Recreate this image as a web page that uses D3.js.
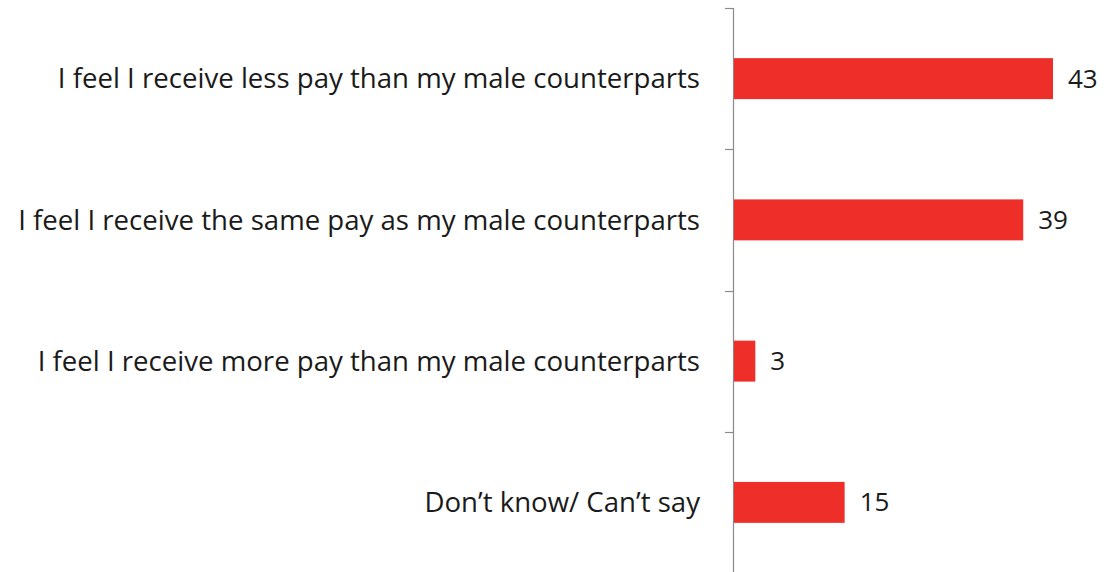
<!DOCTYPE html>
<html>
<head>
<meta charset="utf-8">
<script src="https://cdn.jsdelivr.net/npm/d3@7"></script>
<style>
  html, body { margin: 0; padding: 0; background: #fff; }
  svg { display: block; }
  text { font-family: "Open Sans", Lato, sans-serif; fill: #1a1a1a; }
</style>
</head>
<body>
<svg id="chart" width="1104" height="572"></svg>
<script>
// Survey answers and the share of respondents (%) choosing each one
const categories = [
  "I feel I receive less pay than my male counterparts",
  "I feel I receive the same pay as my male counterparts",
  "I feel I receive more pay than my male counterparts",
  "Don\u2019t know/ Can\u2019t say"
];
const values = [43, 39, 3, 15];

const svg = d3.select("#chart");
const axisX = 733;

const x = d3.scaleLinear().domain([0, 43]).range([axisX, 1053]);
const y = d3.scaleBand().domain(categories).range([8, 573])
  .paddingInner(0.71).paddingOuter(0.355);

// Vertical category axis with tick marks between the bands
const step = y.step();
const y0 = y.range()[0];
const boundaries = d3.range(categories.length + 1).map(i => y0 + i * step);

svg.append("line")
  .attr("x1", axisX + 0.5).attr("x2", axisX + 0.5)
  .attr("y1", y0).attr("y2", 572)
  .attr("stroke", "#8a8a8a").attr("stroke-width", 1.2);

svg.selectAll("line.tick").data(boundaries).join("line")
  .attr("class", "tick")
  .attr("x1", axisX - 8).attr("x2", axisX + 0.5)
  .attr("y1", d => Math.round(d) + 0.5).attr("y2", d => Math.round(d) + 0.5)
  .attr("stroke", "#8a8a8a").attr("stroke-width", 1.2);

// Bars
svg.selectAll("rect.bar").data(values).join("rect")
  .attr("class", "bar")
  .attr("x", x(0) + 1)
  .attr("y", (d, i) => y(categories[i]))
  .attr("width", d => x(d) - x(0) - 1)
  .attr("height", y.bandwidth())
  .attr("fill", "#ee2e28");

// Category labels
svg.selectAll("text.cat").data(categories).join("text")
  .attr("class", "cat")
  .attr("x", 700)
  .attr("y", d => y(d) + y.bandwidth() / 2)
  .attr("dy", "0.35em")
  .attr("text-anchor", "end")
  .attr("font-size", 27.6)
  .text(d => d);

// Value labels
svg.selectAll("text.val").data(values).join("text")
  .attr("class", "val")
  .attr("x", d => x(d) + 15)
  .attr("y", (d, i) => y(categories[i]) + y.bandwidth() / 2)
  .attr("dy", "0.35em")
  .attr("font-size", 26)
  .text(d => d);
</script>
</body>
</html>
